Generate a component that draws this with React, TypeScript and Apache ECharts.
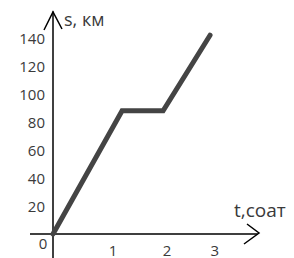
import React, { useEffect, useRef } from "react";
import * as echarts from "echarts";

// time, hours
const tValues = [0, 1.28, 2.04, 2.91];
// distance, km
const sValues = [0, 88, 88, 142];
const xTickLabels = [1, 2, 3];
const yTickLabels = [20, 40, 60, 80, 100, 120, 140];
const xName = "t,соат";
const yName = "s, км";
const originLabel = "0";

const FONT = "Open Sans";
const TEXT = "#3a3a3a";

export default function App() {
  const ref = useRef<HTMLDivElement>(null);
  useEffect(() => {
    if (!ref.current) return;
    const chart = echarts.init(ref.current, null, { renderer: "svg" });
    chart.setOption({
      animation: false,
      backgroundColor: "#ffffff",
      grid: {
        left: 53,
        right: 37,
        top: 12,
        bottom: 24,
        containLabel: false,
        outerBoundsMode: "none",
      },
      xAxis: {
        type: "value",
        min: 0,
        max: 3.78,
        axisLine: { show: true, lineStyle: { color: "#000", width: 1.5 } },
        axisTick: { show: false },
        splitLine: { show: false },
        axisLabel: {
          customValues: xTickLabels,
          margin: 8,
          color: TEXT,
          fontFamily: FONT,
          fontSize: 15,
          formatter: (v: number) => (v < 3 ? `{s|${v}}` : `{n|${v}}`),
          rich: {
            s: { padding: [0, 0, 0, 12], color: TEXT, fontFamily: FONT, fontSize: 15 },
            n: { color: TEXT, fontFamily: FONT, fontSize: 15 },
          },
        },
      },
      yAxis: {
        type: "value",
        min: 0,
        max: 158.6,
        axisLine: { show: true, lineStyle: { color: "#000", width: 1.5 } },
        axisTick: { show: false },
        splitLine: { show: false },
        axisLabel: {
          customValues: yTickLabels,
          margin: 8,
          color: TEXT,
          fontFamily: FONT,
          fontSize: 15,
        },
      },
      series: [
        {
          type: "line",
          data: tValues.map((t, i) => [t, sValues[i]]),
          symbol: "none",
          clip: false,
          lineStyle: { color: "#444444", width: 5, cap: "round", join: "miter" },
        },
      ],
      graphic: [
        {
          type: "line",
          shape: { x1: 30, y1: 234, x2: 53, y2: 234 },
          style: { stroke: "#000", lineWidth: 1.5 },
        },
        {
          type: "line",
          shape: { x1: 53, y1: 234, x2: 53, y2: 258 },
          style: { stroke: "#000", lineWidth: 1.5 },
        },
        {
          type: "polyline",
          shape: { points: [[44, 30], [53, 12], [62, 29]] },
          style: { stroke: "#000", lineWidth: 1.5, fill: null },
        },
        {
          type: "polyline",
          shape: { points: [[247, 224], [259, 233], [244, 244]] },
          style: { stroke: "#000", lineWidth: 1.5, fill: null },
        },
        {
          type: "text",
          x: 64,
          y: 19,
          style: {
            text: yName,
            fill: TEXT,
            font: `18px "${FONT}"`,
            textVerticalAlign: "middle",
          },
        },
        {
          type: "text",
          x: 234,
          y: 210,
          style: {
            text: xName,
            fill: TEXT,
            font: `19px "${FONT}"`,
            textVerticalAlign: "middle",
          },
        },
        {
          type: "text",
          x: 43,
          y: 243,
          style: {
            text: originLabel,
            fill: TEXT,
            font: `15px "${FONT}"`,
            textAlign: "center",
            textVerticalAlign: "middle",
          },
        },
      ],
    });
    return () => chart.dispose();
  }, []);
  return (
    <div
      ref={ref}
      style={{ position: "absolute", left: 0, top: 0, width: 294, height: 258 }}
    />
  );
}
